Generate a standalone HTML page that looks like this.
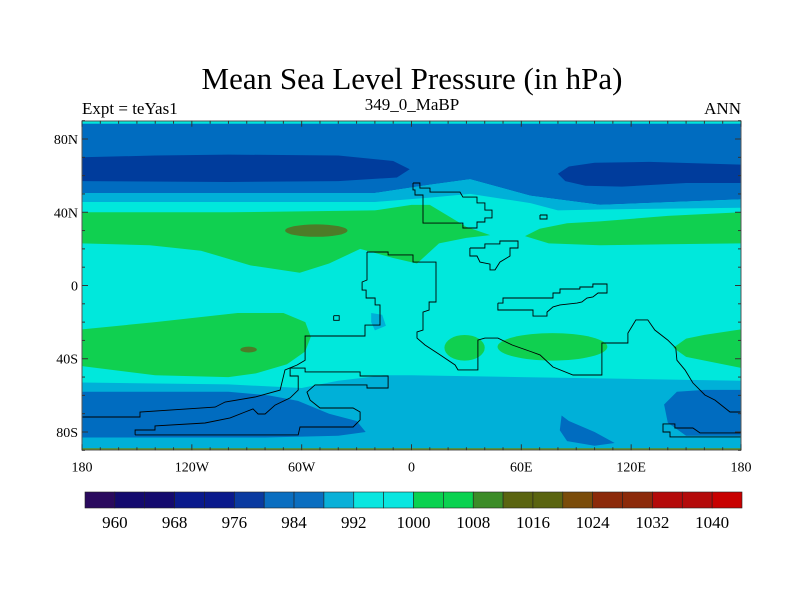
<!DOCTYPE html>
<html><head><meta charset="utf-8">
<style>
html,body{margin:0;padding:0;background:#fff;}
svg{display:block;font-family:"Liberation Serif",serif;}
</style></head>
<body>
<svg id="chart" width="800" height="600" viewBox="0 0 800 600" xmlns="http://www.w3.org/2000/svg">
<text x="412" y="89" font-size="31" text-anchor="middle">Mean Sea Level Pressure (in hPa)</text>
<text x="82" y="114" font-size="17">Expt = teYas1</text>
<text x="412" y="110" font-size="17" text-anchor="middle">349_0_MaBP</text>
<text x="741" y="114" font-size="17" text-anchor="end">ANN</text>
<defs><clipPath id="mapclip"><rect x="82" y="121" width="659" height="329"/></clipPath></defs>
<g id="map" clip-path="url(#mapclip)"></g>
<g id="coast" clip-path="url(#mapclip)"></g>
<rect x="82" y="121" width="659" height="329" fill="none" stroke="#555" stroke-width="1"/>
<g id="axes"></g>
<g id="cbar"></g>
</svg>
<script>
// ---- data ----
const levelLabels = [960,968,976,984,992,1000,1008,1016,1024,1032,1040];
const levelColors = ["#2a0a5e","#140a6e","#140a6e","#0a1a8c","#0a1a8c","#0a3aa0","#0a6ec0","#0a6ec0","#0ab0d8","#0ae6e0","#0ae6e0","#0ad250","#0ad250","#3c8c28","#5a6410","#5a6410","#7a4c0a","#8c2a0a","#8c2a0a","#b40a0a","#b40a0a","#c80000"];
const lonTicks = [-180,-120,-60,0,60,120,180];
const lonTickLabels = ["180","120W","60W","0","60E","120E","180"];
const latTicks = [80,40,0,-40,-80];
const latTickLabels = ["80N","40N","0","40S","80S"];

// contour regions [lon,lat]
const regMedBlueN = [[-180,90],[180,90],[180,47],[103,44],[65,49],[32,58],[10,55],[-20,50.5],[-100,50.5],[-180,50.5]];
const regLightBlueN = [[-180,50.5],[-100,50.5],[-20,50.5],[10,55],[32,58],[65,49],[103,44],[180,47],[180,42.5],[103,41.5],[80,41],[65,45],[32,50],[10,48],[-20,45.6],[-180,45.6]];
const regDarkBlueNW = [[-180,70],[-140,71],[-100,71.5],[-40,71],[-10,68],[-1,63.5],[-8,59],[-40,57],[-100,56.5],[-180,57]];
const regDarkBlueNE = [[80,61],[86,65],[100,67],[130,67.5],[180,66],[180,56],[150,56],[115,54],[95,54.5],[84,57]];
const regGreenNW = [[-180,40],[-100,40],[-20,41],[0,44],[10,44],[20,38],[30,32],[43,27.5],[30,26],[15,23],[3,12],[-10,15],[-28,20],[-45,12],[-61,7],[-88,11],[-115,19],[-143,22],[-180,23]];
const regGreenNE = [[62,27],[70,31],[85,34],[103,35],[140,38],[180,40],[180,23],[140,22.5],[103,22],[75,23]];
const regGreenSW = [[-180,-24],[-140,-20],[-95,-15],[-70,-15],[-58,-20],[-55,-28],[-58,-36],[-68,-43],[-85,-48],[-100,-50],[-140,-49],[-180,-44]];
const regGreenSE3 = [[143,-34],[150,-29],[160,-27],[180,-24],[180,-45],[165,-42],[150,-39]];
const regLightBlueS = [[-180,-53],[-100,-54],[-60,-56],[-40,-52],[-15,-49],[0,-49],[60,-50],[120,-51],[180,-52],[180,-90],[-180,-90]];
const regMedBlueSW = [[-180,-58],[-100,-58],[-78,-60],[-62,-63],[-45,-70],[-30,-74],[-25,-80],[-40,-82],[-80,-83],[-180,-83]];
const regMedBlueSE = [[145,-58],[160,-57],[180,-57],[180,-82],[150,-82],[140,-75],[138,-65]];
const regMedBlueBlob = [[82,-71],[86,-74],[100,-80],[111,-86],[100,-87.5],[85,-85],[81,-79]];
const regLightBluePatch = [[-22,-15],[-16,-16],[-14,-22],[-20,-24.5],[-22,-20]];
const ellGreenSE1 = [29,-34,11,7];
const ellGreenSE2 = [77,-33.5,30,7.5];
const ellOliveN = [-52,30,17,3.4];
const ellOliveS = [-89,-35,4.5,1.6];

// coastlines [lon,lat]
const coastMain = [[-24.3,18.3],[-12.8,18.3],[-12.8,16.7],[0.8,16.7],[0.8,12.8],[13.4,12.8],[13.4,-9],[9.6,-9],[9.6,-13.4],[6.3,-14.5],[6.3,-24.3],[3,-25.4],[3,-28.7],[7.4,-32.5],[15.6,-37.9],[23.8,-43.4],[25.4,-46.1],[36.3,-46.1],[36.3,-29.8],[40.1,-28.7],[47.2,-28.7],[55,-32.5],[65.8,-36.3],[70.2,-37.9],[77.3,-44.5],[88.2,-48.9],[104,-48.9],[104,-31.4],[118.2,-31.4],[118.2,-26],[122.6,-18.8],[129.1,-18.8],[132.9,-24.3],[140,-29.8],[144.4,-34.2],[145,-40.8],[149.4,-46.1],[153.7,-53.2],[160.3,-59.8],[165.8,-62.6],[174,-69.1],[180,-69.1]];
const coastSW = [[-180,-71.8],[-148.3,-71.8],[-148.3,-69.1],[-107.3,-66.4],[-101.8,-63.6],[-85.5,-60.9],[-71.8,-57.1],[-69.1,-46.1],[-62.5,-43.4],[-58.1,-40.8],[-58.1,-27.6],[-25.4,-27.6],[-25.4,-21.6],[-17.2,-21.6],[-17.2,-10.6],[-19.9,-10.6],[-19.9,-6.8],[-24.8,-6.8],[-24.8,-2.5],[-27,-2.5],[-27,1.9],[-24.3,3],[-24.3,18.3]];
const coastLoopB = [[-151,-81.6],[-151,-78.9],[-140.1,-78.9],[-140.1,-76.7],[-112.8,-75.1],[-99.1,-72.3],[-90.9,-69.1],[-86.6,-67.4],[-83.8,-70.2],[-80,-70.2],[-74.5,-65.3],[-66.3,-61.4],[-61.9,-57.1],[-61.9,-49.4],[-66.3,-49.4],[-66.3,-45.1],[-58.1,-45.1],[-58.1,-47.2],[-28.1,-47.2],[-28.1,-49.4],[-12.8,-49.4],[-12.8,-56],[-24.3,-56],[-24.3,-54.3],[-52.7,-54.3],[-57.1,-58.2],[-55.4,-62.6],[-50,-66.9],[-31.9,-66.9],[-28.1,-69.1],[-28.1,-73.4],[-31.9,-77.3],[-60.9,-77.3],[-61.9,-81.6],[-151,-81.6]];
const coastEurope = [[0.8,56],[4.6,56],[4.6,53.2],[10.1,53.2],[10.1,51],[26.5,51],[28.1,48.3],[35.8,48.3],[35.8,45.1],[40.1,45.1],[40.1,41.2],[44,41.2],[44,36.9],[40.1,36.9],[40.1,34.7],[35.8,34.7],[35.8,31.4],[28.1,31.4],[28.1,34.1],[6.3,34.1],[6.3,49.4],[1.9,49.4],[1.9,52.2],[0.8,52.2],[0.8,56]];
const coastArabia = [[31.9,20.5],[40.1,20.5],[40.1,22.7],[48.3,22.7],[48.3,24.3],[58.2,24.3],[58.2,20.5],[53.8,20.5],[53.8,16.1],[48.3,12.8],[45.6,8.5],[42.9,8.5],[42.9,11.7],[37.4,12.8],[35.8,16.1],[31.9,16.1],[31.9,20.5]];
const coastIndia = [[47.2,-9.6],[50,-9.6],[50,-6.8],[77.3,-6.8],[77.3,-4.1],[81.1,-4.1],[81.1,-1.9],[92,-1.9],[92,-0.8],[99.1,-0.8],[99.1,0.8],[106.8,0.8],[106.8,-4.1],[101.9,-4.1],[99.1,-6.3],[95.8,-6.8],[93.1,-9],[90.4,-9.6],[81.1,-10.6],[77.3,-11.7],[74,-14.5],[74,-16.7],[66.4,-16.7],[66.4,-13.4],[50,-13.4],[47.2,-13.4],[47.2,-9.6]];
const coastSE = [[180,-82.7],[141.2,-82.7],[141.2,-80],[137.4,-80],[137.4,-75.6],[143.9,-75.6],[143.9,-77.8],[153.7,-77.8],[157.6,-80.5],[180,-80.5]];
const coastBox1 = [[-42.5,-16.5],[-39.5,-16.5],[-39.5,-19],[-42.5,-19],[-42.5,-16.5]];
const coastBox2 = [[70.2,38.5],[74,38.5],[74,36.3],[70.2,36.3],[70.2,38.5]];

// ---- projection ----
const X0=82, X1=741, Y0=120.7, Y1=450.3;
function px(lon){return X0+(lon+180)/360*(X1-X0);}
function py(lat){return Y0+(90-lat)/180*(Y1-Y0);}
const NS="http://www.w3.org/2000/svg";
const mapG=document.getElementById('map');
const coastG=document.getElementById('coast');
const axesG=document.getElementById('axes');
const cbarG=document.getElementById('cbar');
function ptsStr(a){return a.map(p=>px(p[0]).toFixed(1)+","+py(p[1]).toFixed(1)).join(" ");}
function poly(a,fill,name){
  const e=document.createElementNS(NS,'polygon');
  e.setAttribute('points',ptsStr(a));e.setAttribute('fill',fill);
  
  
  mapG.appendChild(e);
}
function ell(d,fill,name){
  const e=document.createElementNS(NS,'ellipse');
  e.setAttribute('cx',px(d[0]));e.setAttribute('cy',py(d[1]));
  e.setAttribute('rx',px(d[0]+d[2])-px(d[0]));e.setAttribute('ry',py(d[1]-d[3])-py(d[1]));
  e.setAttribute('fill',fill);
  
  
  mapG.appendChild(e);
}
const CYAN="#00e8dc",LB="#00b0d8",MB="#006cc0",DB="#003c9c",GR="#10d050",OL="#4c7c28";
const bg=document.createElementNS(NS,'rect');
bg.setAttribute('x',X0);bg.setAttribute('y',Y0);bg.setAttribute('width',X1-X0);bg.setAttribute('height',Y1-Y0);bg.setAttribute('fill',CYAN);


mapG.appendChild(bg);
poly(regMedBlueN,MB,'contour-984-north');
poly(regLightBlueN,LB,'contour-992-north');
poly(regDarkBlueNW,DB,'contour-976-northwest');
poly(regDarkBlueNE,DB,'contour-976-northeast');
poly(regGreenNW,GR,'contour-1008-north');
poly(regGreenNE,GR,'contour-1008-northeast');
ell(ellOliveN,OL,'contour-1012-north');
poly(regGreenSW,GR,'contour-1008-southwest');
ell(ellOliveS,OL,'contour-1012-south');
ell(ellGreenSE1,GR,'contour-1008-southeast-a');
ell(ellGreenSE2,GR,'contour-1008-southeast-b');
poly(regGreenSE3,GR,'contour-1008-southeast-c');
poly(regLightBlueS,LB,'contour-992-south');
poly(regMedBlueSW,MB,'contour-984-southwest');
poly(regMedBlueSE,MB,'contour-984-southeast');
poly(regMedBlueBlob,MB,'contour-984-south-blob');
poly(regLightBluePatch,LB,'contour-992-patch');
// edge strips
const topStrip=document.createElementNS(NS,'rect');
topStrip.setAttribute('x',X0);topStrip.setAttribute('y',Y0);topStrip.setAttribute('width',X1-X0);topStrip.setAttribute('height',3);topStrip.setAttribute('fill',CYAN);


mapG.appendChild(topStrip);
const botStrip=document.createElementNS(NS,'rect');
botStrip.setAttribute('x',X0);botStrip.setAttribute('y',Y1-2);botStrip.setAttribute('width',X1-X0);botStrip.setAttribute('height',2);botStrip.setAttribute('fill','#6a8a10');


mapG.appendChild(botStrip);

function line(a,name){
  const e=document.createElementNS(NS,'polyline');
  e.setAttribute('points',ptsStr(a));e.setAttribute('fill','none');e.setAttribute('stroke','#000');e.setAttribute('stroke-width','0.9');
  
  
  coastG.appendChild(e);
}
line(coastMain,'coastline-main');
line(coastSW,'coastline-southwest');
line(coastLoopB,'coastline-south-america');
line(coastEurope,'coastline-europe');
line(coastArabia,'coastline-arabia');
line(coastIndia,'coastline-india');
line(coastSE,'coastline-southeast');
line(coastBox1,'coastline-island-a');
line(coastBox2,'coastline-island-b');

// ticks
function tick(x1,y1,x2,y2){
  const e=document.createElementNS(NS,'line');
  e.setAttribute('x1',x1);e.setAttribute('y1',y1);e.setAttribute('x2',x2);e.setAttribute('y2',y2);
  e.setAttribute('stroke','#333');e.setAttribute('stroke-width','1');
  
  
  axesG.appendChild(e);
}
for(let lon=-180;lon<=180;lon+=10){
  const L=(lon%60===0)?6:3,x=px(lon);
  tick(x,Y0,x,Y0+L);tick(x,Y1,x,Y1-L);
}
for(let lat=-90;lat<=90;lat+=10){
  const L=(lat%40===0)?6:3,y=py(lat);
  tick(X0,y,X0+L,y);tick(X1,y,X1-L,y);
}
lonTicks.forEach((v,i)=>{
  const t=document.createElementNS(NS,'text');
  t.setAttribute('x',px(v));t.setAttribute('y',Y1+21);t.setAttribute('font-size','14');t.setAttribute('text-anchor','middle');
  t.textContent=lonTickLabels[i];
  
  
  axesG.appendChild(t);
});
latTicks.forEach((v,i)=>{
  const t=document.createElementNS(NS,'text');
  t.setAttribute('x',X0-4);t.setAttribute('y',py(v)+5);t.setAttribute('font-size','14');t.setAttribute('text-anchor','end');
  t.textContent=latTickLabels[i];
  
  
  axesG.appendChild(t);
});

// colorbar
const CB0=85, CB1=742, CBY=492, CBH=16, n=levelColors.length, bw=(CB1-CB0)/n;
levelColors.forEach((c,i)=>{
  const r=document.createElementNS(NS,'rect');
  r.setAttribute('x',CB0+i*bw);r.setAttribute('y',CBY);r.setAttribute('width',bw);r.setAttribute('height',CBH);
  r.setAttribute('fill',c);r.setAttribute('stroke','#222');r.setAttribute('stroke-width','0.6');
  
  
  cbarG.appendChild(r);
});
levelLabels.forEach((v,i)=>{
  const t=document.createElementNS(NS,'text');
  t.setAttribute('x',CB0+(1+2*i)*bw);t.setAttribute('y',CBY+CBH+20);t.setAttribute('font-size','17');t.setAttribute('text-anchor','middle');
  t.textContent=v;
  
  
  cbarG.appendChild(t);
});
</script>
</body></html>
